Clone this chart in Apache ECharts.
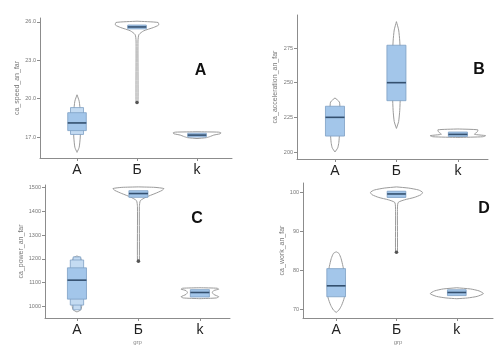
<!DOCTYPE html>
<html><head><meta charset="utf-8">
<script src="https://cdn.jsdelivr.net/npm/echarts@6/dist/echarts.min.js"></script>
<style>html,body{margin:0;padding:0;background:#fff}#c{width:502px;height:354px}</style>
</head><body><div id="c"></div>
<script>
// ---- data ----
const categories = ['А', 'Б', 'k'];
const panelLetters = ['A', 'B', 'C', 'D'];
const yNames = ['ca_speed_an_far', 'ca_acceleration_an_far', 'ca_power_an_far', 'ca_work_an_far'];
const xName = 'grp';

const speedTicks = [17, 20, 23, 26];
const accelTicks = [200, 225, 250, 275];
const powerTicks = [1000, 1100, 1200, 1300, 1400, 1500];
const workTicks = [70, 80, 90, 100];

// letter-value boxes per group (inner level first)
const speedBoxes = [[[17.5, 18.9], [17.2, 19.3]], [[25.45, 25.75]], [[17.0, 17.3]]];
const speedMedians = [18.1, 25.6, 17.15];
const speedOutliers = [[], [19.7], []];
// violin profiles: [value, relative density]
const speedViolins = [
  [[15.8,0],[16.2,0.08],[17,0.12],[18,0.13],[19,0.12],[19.8,0.08],[20.3,0]],
  [[19.7,0],[19.75,0.035],[24.5,0.035],[25.0,0.07],[25.3,0.25],[25.55,0.6],[25.75,0.8],[25.95,0.78],[26.05,0]],
  [[16.88,0],[16.95,0.35],[17.05,0.5],[17.15,0.62],[17.25,0.85],[17.32,0.89],[17.38,0.8],[17.41,0]]
];

const accelBoxes = [[[211.5, 233]], [[237, 277]], [[211.2, 214.4]]];
const accelMedians = [225, 250, 212.7];
const accelOutliers = [[], [], []];
const accelViolins = [
  [[200,0],[203,0.1],[207,0.14],[212,0.16],[220,0.18],[230,0.18],[236,0.16],[239,0]],
  [[217,0],[222,0.08],[230,0.12],[240,0.14],[255,0.15],[270,0.14],[280,0.12],[288,0.08],[294,0]],
  [[210.5,0],[211.0,0.9],[211.8,1.0],[212.8,0.6],[214.5,0.7],[216,0.72],[216.6,0]]
];

const powerBoxes = [[[1030, 1162], [1005, 1195], [985, 1208]], [[1459, 1487]], [[1039, 1070]]];
const powerMedians = [1110, 1475, 1058];
const powerOutliers = [[], [1190], []];
const powerViolins = [
  [[976,0],[985,0.14],[1000,0.17],[1050,0.19],[1150,0.19],[1190,0.17],[1205,0.12],[1212,0]],
  [[1190,0],[1193,0.035],[1420,0.035],[1445,0.07],[1460,0.28],[1475,0.6],[1488,0.85],[1496,0.92],[1501,0.6],[1503,0]],
  [[1032,0],[1035,0.6],[1040,0.68],[1050,0.5],[1058,0.45],[1066,0.5],[1072,0.68],[1076,0.62],[1078,0]]
];

const workBoxes = [[[73.2, 80.4]], [[98.6, 100.2]], [[73.5, 75]]];
const workMedians = [76, 99.5, 74.3];
const workOutliers = [[], [84.6], []];
const workViolins = [
  [[69.2,0],[69.8,0.1],[71,0.2],[73,0.3],[76,0.33],[79,0.3],[81,0.25],[83,0.18],[84.3,0.1],[84.7,0]],
  [[84.6,0],[84.8,0.035],[95,0.035],[97.3,0.06],[98,0.3],[98.6,0.65],[99.3,0.9],[99.9,0.96],[100.5,0.82],[101,0.45],[101.3,0]],
  [[72.7,0],[72.9,0.4],[73.3,0.75],[74,0.98],[74.7,0.82],[75.2,0.5],[75.5,0]]
];

// ---- layout ----
const panels = [
  {ticks: speedTicks, boxes: speedBoxes, medians: speedMedians, outliers: speedOutliers, violins: speedViolins, fmt: v => v.toFixed(1),
   grid: {left: 40, top: 18, right: 270, bottom: 196}, y: [15.36, 26.3], x: [-0.617, 2.583], nameGap: 19,
   letter: [200.5, 70.5]},
  {ticks: accelTicks, boxes: accelBoxes, medians: accelMedians, outliers: accelOutliers, violins: accelViolins, fmt: v => String(v),
   grid: {left: 297, top: 15, right: 14, bottom: 195}, y: [194.95, 298.8], x: [-0.618, 2.49], nameGap: 18,
   letter: [479, 70]},
  {ticks: powerTicks, boxes: powerBoxes, medians: powerMedians, outliers: powerOutliers, violins: powerViolins, fmt: v => String(v),
   grid: {left: 45, top: 185, right: 272, bottom: 36}, y: [950.5, 1511], x: [-0.52, 2.49], nameGap: 20,
   letter: [197, 219]},
  {ticks: workTicks, boxes: workBoxes, medians: workMedians, outliers: workOutliers, violins: workViolins, fmt: v => String(v),
   grid: {left: 303, top: 183, right: 9, bottom: 36}, y: [67.77, 102.3], x: [-0.55, 2.6], nameGap: 17,
   letter: [484, 208.5]}
];

function makeRender(p) {
  return function (params, api) {
    const g = api.value(0);
    const cx = api.coord([g, api.value(1)])[0];
    const unit = api.size([1, 0])[0];
    const maxHalf = unit * 0.45;
    const boxHalf = unit * 0.155;
    const children = [];
    // violin
    const left = [], right = [];
    p.violins[g].forEach(([v, d]) => {
      const y = api.coord([g, v])[1];
      left.push([cx - d * maxHalf, y]);
      right.push([cx + d * maxHalf, y]);
    });
    children.push({type: 'polygon', shape: {points: left.concat(right.reverse()), smooth: 0.2},
      style: {fill: '#ffffff', stroke: '#9b9b9b', lineWidth: 1}});
    // letter-value boxes (outer first)
    const bx = p.boxes[g];
    for (let i = bx.length - 1; i >= 0; i--) {
      const [lo, hi] = bx[i];
      const yLo = api.coord([g, lo])[1], yHi = api.coord([g, hi])[1];
      const hw = boxHalf * (1 - 0.3 * i);
      children.push({type: 'rect', shape: {x: cx - hw, y: yHi, width: hw * 2, height: yLo - yHi},
        style: {fill: i === 0 ? '#a3c6ea' : '#c4dbf2', stroke: '#7d9fc4', lineWidth: 0.8}});
    }
    // median
    const ym = api.coord([g, p.medians[g]])[1];
    children.push({type: 'line', shape: {x1: cx - boxHalf, y1: ym, x2: cx + boxHalf, y2: ym},
      style: {stroke: '#34506f', lineWidth: 1.6}});
    // outliers
    p.outliers[g].forEach(v => {
      const y = api.coord([g, v])[1];
      children.push({type: 'circle', shape: {cx: cx, cy: y, r: 1.8}, style: {fill: '#555'}});
    });
    return {type: 'group', children};
  };
}

const axisColor = '#8c8c8c';
const option = {
  animation: false,
  backgroundColor: '#fff',
  grid: panels.map(p => Object.assign({containLabel: false}, p.grid)),
  xAxis: panels.map((p, i) => ({
    type: 'value', gridIndex: i, min: p.x[0], max: p.x[1],
    axisLine: {show: true, onZero: false, lineStyle: {color: axisColor}},
    axisTick: {show: true, customValues: [0, 1, 2], length: 3, lineStyle: {color: axisColor}},
    axisLabel: {customValues: [0, 1, 2], formatter: v => categories[Math.round(v)], fontSize: 14,
      color: '#222', margin: 5, fontFamily: 'Liberation Sans'},
    splitLine: {show: false},
    name: i >= 2 ? xName : '', nameLocation: 'middle', nameGap: 21,
    nameTextStyle: {fontSize: 6, color: '#888'}
  })),
  yAxis: panels.map((p, i) => ({
    type: 'value', gridIndex: i, min: p.y[0], max: p.y[1],
    axisLine: {show: true, onZero: false, lineStyle: {color: axisColor}},
    axisTick: {show: true, customValues: p.ticks, length: 3, lineStyle: {color: axisColor}},
    axisLabel: {customValues: p.ticks, formatter: p.fmt, fontSize: 5.5, color: '#777', margin: 4},
    splitLine: {show: false},
    name: yNames[i], nameLocation: 'middle', nameGap: p.nameGap,
    nameTextStyle: {fontSize: 7, color: '#777'}
  })),
  series: panels.map((p, i) => ({
    type: 'custom', xAxisIndex: i, yAxisIndex: i, clip: false,
    data: p.medians.map((m, g) => [g, m]),
    encode: {x: 0, y: 1},
    renderItem: makeRender(p)
  })),
  graphic: panels.map((p, i) => ({
    type: 'text', x: p.letter[0], y: p.letter[1],
    style: {text: panelLetters[i], fontSize: 16, fontWeight: 'bold', fill: '#111',
      align: 'center', verticalAlign: 'middle', fontFamily: 'Liberation Sans'}
  }))
};

const chart = echarts.init(document.getElementById('c'), null, {renderer: 'canvas'});
chart.setOption(option);
</script>
</body></html>
